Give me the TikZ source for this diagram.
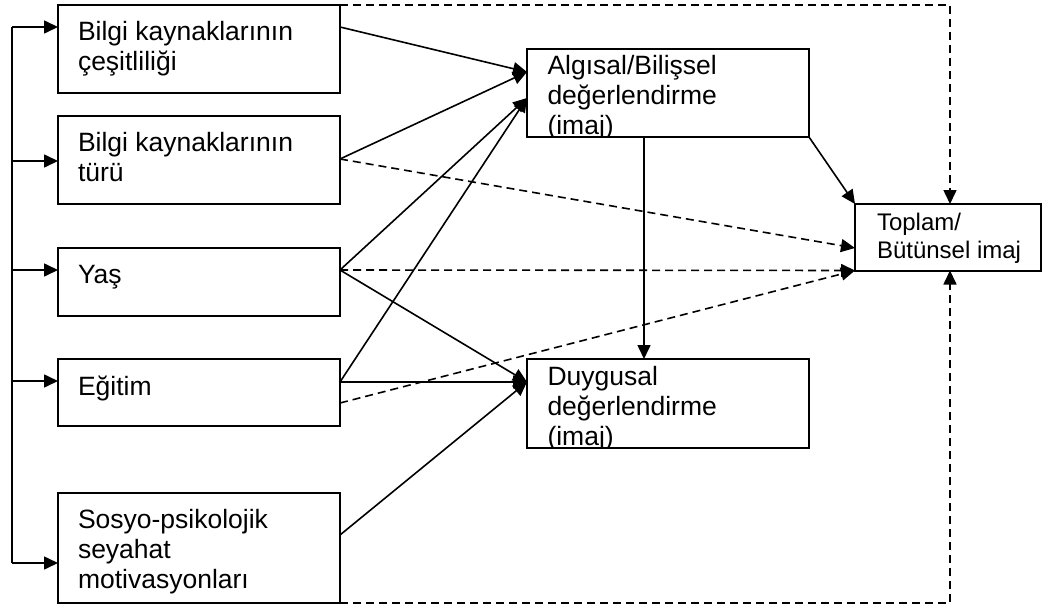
\documentclass[tikz,border=0pt]{standalone}
\usepackage{fontspec}
\setmainfont{Liberation Sans}
\usetikzlibrary{arrows.meta}
\newcommand\twoln[2]{\vtop{\baselineskip=30pt\hbox{#1}\hbox{#2}}}
\newcommand\threeln[3]{\vtop{\baselineskip=30pt\hbox{#1}\hbox{#2}\hbox{#3}}}
\tikzset{
  box/.style={draw, line width=2pt, inner sep=0pt, outer sep=0pt, anchor=north west},
  txt/.style={anchor=base west, inner sep=0pt, outer sep=0pt, font=\fontsize{26.5}{30}\selectfont},
  stxt/.style={anchor=base west, inner sep=0pt, outer sep=0pt, font=\fontsize{24}{28}\selectfont},
  ln/.style={line width=1.7pt},
  con/.style={line width=1.6pt, -{Triangle[length=14pt,width=13pt]}},
  dcon/.style={con, dash pattern=on 8pt off 5pt},
}
\begin{document}
\begin{tikzpicture}[x=1pt,y=-1pt]
\useasboundingbox (0,0) rectangle (1045,610);
% boxes
\node[box, minimum width=282pt, minimum height=88pt] (b1) at (58,5) {};
\node[box, minimum width=282pt, minimum height=88pt] (b2) at (58,116) {};
\node[box, minimum width=282pt, minimum height=68pt] (b3) at (58,248) {};
\node[box, minimum width=282pt, minimum height=67pt] (b4) at (58,359) {};
\node[box, minimum width=282pt, minimum height=110pt] (b5) at (58,493) {};
\node[box, minimum width=282pt, minimum height=88pt] (alg) at (527,49) {};
\node[box, minimum width=282pt, minimum height=89pt] (duy) at (527,359) {};
\node[box, minimum width=186pt, minimum height=66.5pt] (tp) at (855,204) {};
% texts
\node[txt] (t1) at (78,40.5) {\twoln{Bilgi kaynaklarının}{çeşitliliği}};
\node[txt] (t2) at (78,151.5) {\twoln{Bilgi kaynaklarının}{türü}};
\node[txt] (t3) at (78,283) {Yaş};
\node[txt] (t4) at (78,395) {Eğitim};
\node[txt] (t5) at (78,528) {\threeln{Sosyo-psikolojik}{seyahat}{motivasyonları}};
\begin{scope}
\clip (alg.north west) rectangle (alg.south east);
\node[txt] (talg) at (547.5,75) {\threeln{Algısal/Bilişsel}{değerlendirme}{(imaj)}};
\end{scope}
\begin{scope}
\clip (duy.north west) rectangle (duy.south east);
\node[txt] (tduy) at (547.5,385) {\threeln{Duygusal}{değerlendirme}{(imaj)}};
\end{scope}
\node[stxt] (ttp) at (877,230) {\vtop{\baselineskip=28pt\hbox{Toplam/}\hbox{Bütünsel imaj}}};
% left bracket
\coordinate (lx) at (12,0);
\coordinate (vx) at (644,0);
\coordinate (dx) at (950,0);
\draw[ln] ([yshift=-22pt]b1.north west -| lx) -- ([yshift=-70pt]b5.north west -| lx);
\draw[con] ([yshift=-22pt]b1.north west -| lx) -- ([yshift=-22pt]b1.north west);
\draw[con] ([yshift=-45pt]b2.north west -| lx) -- ([yshift=-45pt]b2.north west);
\draw[con] ([yshift=-22pt]b3.north west -| lx) -- ([yshift=-22pt]b3.north west);
\draw[con] ([yshift=-22pt]b4.north west -| lx) -- ([yshift=-22pt]b4.north west);
\draw[con] ([yshift=-70pt]b5.north west -| lx) -- ([yshift=-70pt]b5.north west);
% to Algisal
\draw[con] ([yshift=-22pt]b1.north east) -- ([yshift=-23pt]alg.north west);
\draw[con] ([yshift=-43pt]b2.north east) -- ([yshift=-23pt]alg.north west);
\draw[con] ([yshift=-22pt]b3.north east) -- ([yshift=-49pt]alg.north west);
\draw[con] ([yshift=-23pt]b4.north east) -- ([yshift=-49pt]alg.north west);
% to Duygusal
\draw[con] ([yshift=-22pt]b3.north east) -- ([yshift=-23pt]duy.north west);
\draw[con] ([yshift=-23pt]b4.north east) -- ([yshift=-23pt]duy.north west);
\draw[con] ([yshift=-42pt]b5.north east) -- ([yshift=-23pt]duy.north west);
\draw[con] (alg.south -| vx) -- (duy.north -| vx);
% to Toplam
\draw[con] (alg.south east) -- (tp.north west);
\draw[dcon] ([yshift=-43pt]b2.north east) -- ([yshift=-44pt]tp.north west);
\draw[dcon] ([yshift=-22pt]b3.north east) -- (tp.south west);
\draw[dcon] ([yshift=-44pt]b4.north east) -- (tp.south west);
\draw[dcon] (b1.north east) -| (dx |- tp.north);
\draw[dcon] (b5.south east) -| (dx |- tp.south);
\end{tikzpicture}
\end{document}
